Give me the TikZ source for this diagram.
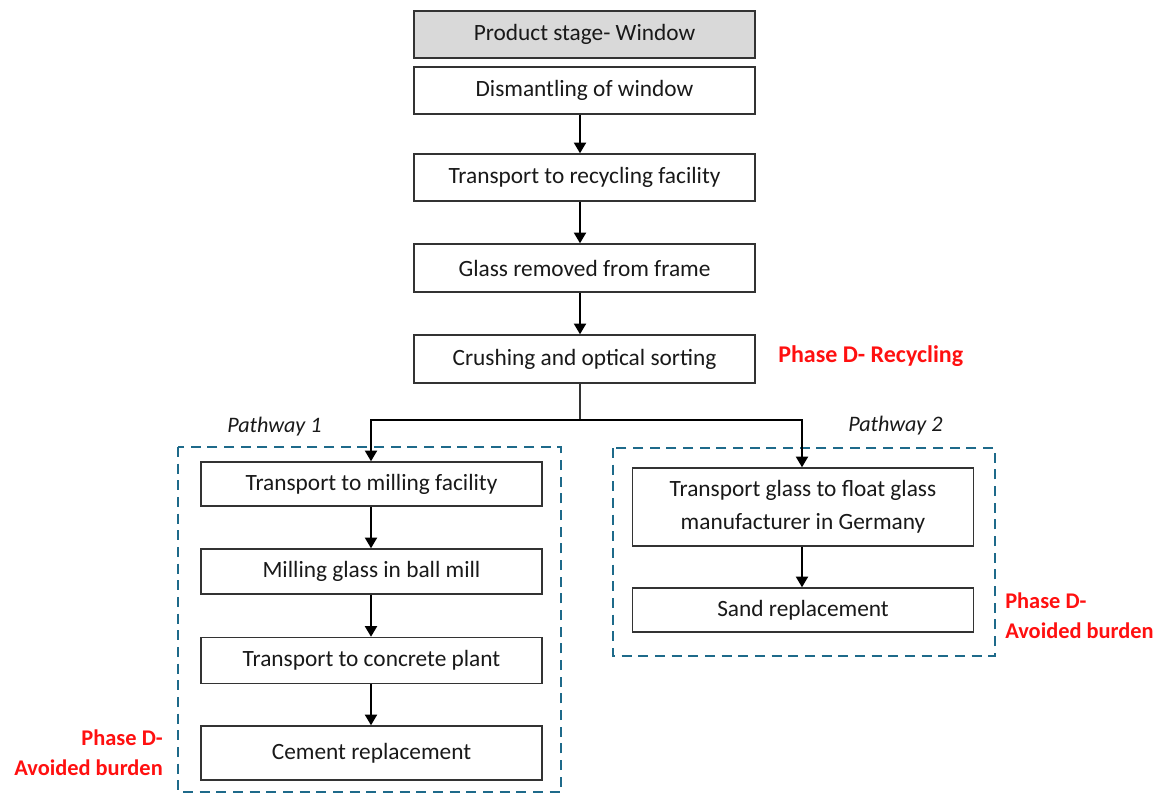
\documentclass[tikz,border=0pt]{standalone}
\usepackage{fontspec}
\setmainfont{Carlito}
\usetikzlibrary{arrows.meta,calc}
\definecolor{boxline}{HTML}{333333}
\definecolor{grayfill}{HTML}{D9D9D9}
\definecolor{dashblue}{HTML}{1E6A8A}
\definecolor{phasered}{HTML}{FF1010}
\tikzset{
  stepbox/.style={draw=boxline, line width=1.1pt, fill=white, minimum width=255.75pt, inner sep=0pt, align=center, font=\fontsize{17.5}{24.75}\selectfont, text=black!90},
  arr/.style={-{Triangle[length=8pt,width=9pt]}, line width=1.5pt, black},
  plainline/.style={line width=1pt, black!80},
  dashbox/.style={draw=dashblue, line width=2pt, dash pattern=on 7.5pt off 5pt},
  phase/.style={text=phasered, font=\bfseries\fontsize{18}{22.5}\selectfont, inner sep=0pt},
  phaseav/.style={text=phasered, font=\bfseries\fontsize{16.8}{22.5}\selectfont, inner sep=0pt},
  pathlbl/.style={font=\itshape\fontsize{16.6}{20}\selectfont, text=black!90, inner sep=0pt}
}
\begin{document}
\begin{tikzpicture}[x=0.75pt,y=-0.75pt]
\useasboundingbox (0,0) rectangle (1161,794);
% main column
\node[stepbox, fill=grayfill, minimum height=35.25pt] (prod) at (584.5,34.5) {Product stage- Window};
\node[stepbox, minimum height=35.25pt] (dis) at (584.5,90.5) {Dismantling of window};
\node[stepbox, minimum height=35.25pt] (trans) at (584.5,177.5) {Transport to recycling facility};
\node[stepbox, minimum height=36pt] (glass) at (584.5,268) {Glass removed from frame};
\node[stepbox, minimum height=36pt] (crush) at (584.5,359) {Crushing and optical sorting};
\node[phase, anchor=west] (phrec) at (778,356) {Phase D- Recycling};
% left pathway
\node[stepbox, minimum height=33pt] (mill1) at (371.5,484) {Transport to milling facility};
\node[stepbox, minimum height=33.75pt] (mill2) at (371.5,571.5) {Milling glass in ball mill};
\node[stepbox, minimum height=34.5pt] (conc) at (371.5,660.5) {Transport to concrete plant};
\node[stepbox, minimum height=40.5pt] (cem) at (371.5,753) {Cement replacement};
% right pathway
\node[stepbox, minimum height=58.5pt] (float) at (803,507) {Transport glass to float glass\\manufacturer in Germany};
\node[stepbox, minimum height=33pt] (sand) at (803,610) {Sand replacement};
% dashed frames
\draw[dashbox] (178,447) rectangle (561,792);
\draw[dashbox] (613,448) rectangle (995,656);
% labels
\node[pathlbl, anchor=west] (p1) at (227,427) {Pathway 1};
\node[pathlbl, anchor=west] (p2) at (848,426) {Pathway 2};
\node[phaseav, anchor=east, align=right] (phl) at (163,753) {Phase D-\\Avoided burden};
\node[phaseav, anchor=west, align=left] (phr) at (1005,616) {Phase D-\\Avoided burden};
% connectors
\coordinate (cx) at (580,0);
\coordinate (lx) at (371,0);
\coordinate (rx) at (802,0);
\coordinate (split) at (580,420);
\draw[arr] (dis.south -| cx) -- (trans.north -| cx);
\draw[arr] (trans.south -| cx) -- (glass.north -| cx);
\draw[arr] (glass.south -| cx) -- (crush.north -| cx);
\draw[plainline] (crush.south -| cx) -- (split);
\draw[arr] (split) -| (mill1.north -| lx);
\draw[arr] (split) -| (float.north -| rx);
\draw[arr] (mill1.south -| lx) -- (mill2.north -| lx);
\draw[arr] (mill2.south -| lx) -- (conc.north -| lx);
\draw[arr] (conc.south -| lx) -- (cem.north -| lx);
\draw[arr] (float.south -| rx) -- (sand.north -| rx);
\end{tikzpicture}
\end{document}
